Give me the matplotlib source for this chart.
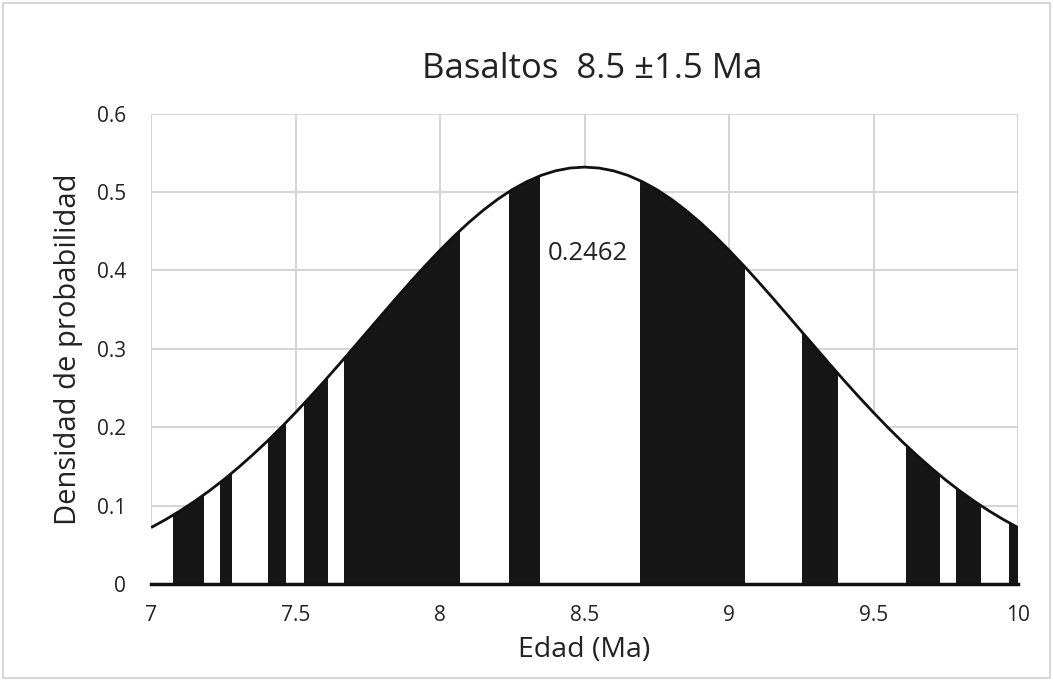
import matplotlib
matplotlib.use("Agg")
import matplotlib.pyplot as plt
from matplotlib.patches import Polygon, Rectangle

# Curve (x step 0.05 from 7 to 10)
curve_x = [round(7 + 0.05 * i, 2) for i in range(61)]
curve_y = [0.0720, 0.0821, 0.0932, 0.1053, 0.1184, 0.1326, 0.1479, 0.1642, 0.1814, 0.1996,
           0.2187, 0.2385, 0.2589, 0.2799, 0.3012, 0.3226, 0.3441, 0.3654, 0.3863, 0.4065,
           0.4259, 0.4443, 0.4614, 0.4770, 0.4910, 0.5032, 0.5133, 0.5214, 0.5272, 0.5307,
           0.5319,
           0.5307, 0.5272, 0.5214, 0.5133, 0.5032, 0.4910, 0.4770, 0.4614, 0.4443, 0.4259,
           0.4065, 0.3863, 0.3654, 0.3441, 0.3226, 0.3012, 0.2799, 0.2589, 0.2385, 0.2187,
           0.1996, 0.1814, 0.1642, 0.1479, 0.1326, 0.1184, 0.1053, 0.0932, 0.0821, 0.0720]

# Black bands (start, end) in Ma
band_start = [7.077, 7.239, 7.406, 7.529, 7.668, 8.240, 8.692, 9.253, 9.611, 9.785, 9.969]
band_end   = [7.183, 7.280, 7.467, 7.613, 8.069, 8.346, 9.055, 9.378, 9.730, 9.871, 10.000]

x_ticks = [7, 7.5, 8, 8.5, 9, 9.5, 10]
x_tick_labels = ["7", "7.5", "8", "8.5", "9", "9.5", "10"]
y_ticks = [0, 0.1, 0.2, 0.3, 0.4, 0.5, 0.6]
y_tick_labels = ["0", "0.1", "0.2", "0.3", "0.4", "0.5", "0.6"]

title = "Basaltos  8.5 ±1.5 Ma"
annotation = "0.2462"

plt.rcParams['font.family'] = ['Open Sans', 'DejaVu Sans']

fig = plt.figure(figsize=(10.53, 6.81), dpi=100)
fig.patch.set_facecolor("white")
fig.patches.append(Rectangle((0.003, 0.004), 0.994, 0.992, transform=fig.transFigure,
                             fill=False, edgecolor="#d0d0d0", linewidth=1.2))

ax = fig.add_axes([0.1434, 0.1424, 0.8234, 0.6906])
ax.set_xlim(7, 10)
ax.set_ylim(0, 0.6)

ax.set_xticks(x_ticks)
ax.set_xticklabels(x_tick_labels)
ax.set_yticks(y_ticks)
ax.set_yticklabels(y_tick_labels)
ax.tick_params(length=0, labelsize=15, colors="#222222")
ax.tick_params(axis="x", pad=15)
ax.tick_params(axis="y", pad=18)
ax.grid(True, color="#d4d4d4", linewidth=1.4)
ax.set_axisbelow(True)
for s in ["top", "left", "right"]:
    ax.spines[s].set_visible(False)
ax.spines["bottom"].set_color("#111111")
ax.spines["bottom"].set_linewidth(2.5)
ax.spines["bottom"].set_zorder(5)

# area under curve as clip path
poly_pts = [(7, 0)] + list(zip(curve_x, curve_y)) + [(10, 0)]
under = Polygon(poly_pts, closed=True, facecolor="white", edgecolor="none", zorder=2)
ax.add_patch(under)

widths = [e - s for s, e in zip(band_start, band_end)]
bars = ax.bar(band_start, [0.6] * len(band_start), width=widths, align="edge",
              color="#161616", edgecolor="none", zorder=3)
for b in bars:
    b.set_clip_path(under)

ax.plot(curve_x, curve_y, color="#111111", linewidth=2.0, zorder=4, solid_capstyle="butt")

ax.text(8.51, 0.422, annotation, ha="center", va="center", fontsize=18.5, color="#222222", zorder=6)

ax.set_xlabel("Edad (Ma)", fontsize=20.5, color="#222222", labelpad=7)
ax.set_ylabel("Densidad de probabilidad", fontsize=21, color="#222222", labelpad=10)
fig.text(0.562, 0.898, title, ha="center", va="center", fontsize=25, color="#222222")

fig.savefig("out.png", dpi=100, facecolor="white")
